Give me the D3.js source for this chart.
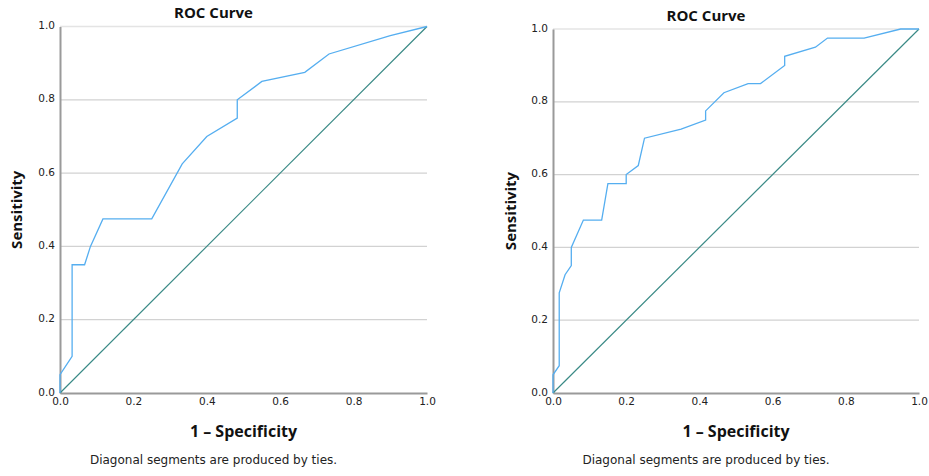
<!DOCTYPE html>
<html>
<head>
<meta charset="utf-8">
<script src="https://cdn.jsdelivr.net/npm/d3@7"></script>
<style>
  body { margin: 0; background: #fff; }
  svg { display: block; }
</style>
</head>
<body>
<svg width="929" height="476"></svg>
<script>
//Chart data
var ticks = [0, 0.2, 0.4, 0.6, 0.8, 1.0];
var diagonal = [[0, 0], [1, 1]];

//left ROC curve: [1 - specificity, sensitivity]
var leftCurve = [
	[0, 0], [0, 0.05], [0.033, 0.10], [0.033, 0.35], [0.067, 0.35], [0.083, 0.40],
	[0.117, 0.475], [0.25, 0.475], [0.333, 0.625], [0.40, 0.70], [0.483, 0.75],
	[0.483, 0.80], [0.55, 0.85], [0.667, 0.875], [0.733, 0.925], [0.90, 0.975], [1, 1]
];

//right ROC curve
var rightCurve = [
	[0, 0], [0, 0.05], [0.017, 0.075], [0.017, 0.275], [0.033, 0.325], [0.05, 0.35],
	[0.05, 0.40], [0.083, 0.475], [0.133, 0.475], [0.15, 0.575], [0.20, 0.575],
	[0.20, 0.60], [0.233, 0.625], [0.25, 0.70], [0.35, 0.725], [0.417, 0.75],
	[0.417, 0.775], [0.467, 0.825], [0.533, 0.85], [0.567, 0.85], [0.633, 0.90],
	[0.633, 0.925], [0.717, 0.95], [0.75, 0.975], [0.85, 0.975], [0.95, 1.0], [1, 1]
];

var panels = [
	{curve: leftCurve, x0: 60, x1: 427, y0: 26.5, y1: 393, titleY: 18, ylabX: 22},
	{curve: rightCurve, x0: 553, x1: 919, y0: 29, y1: 393, titleY: 21, ylabX: 516}
];

var svg = d3.select("svg");

panels.forEach(function(p) {
	var x = d3.scaleLinear().domain([0, 1]).range([p.x0, p.x1]);
	var y = d3.scaleLinear().domain([0, 1]).range([p.y1, p.y0]);
	var cx = (p.x0 + p.x1) / 2;
	var g = svg.append("g");

	//grid lines
	g.selectAll(".grid")
		.data(ticks.slice(1))
		.enter().append("line")
		.attr("x1", p.x0).attr("x2", p.x1)
		.attr("y1", function(d) { return y(d); })
		.attr("y2", function(d) { return y(d); })
		.attr("stroke", function(d) { return d == 1 ? "#e4e4e4" : "#d2d2d2"; })
		.attr("stroke-width", 1.3);

	//axes
	var xAxis = g.append("g")
		.attr("transform", "translate(0," + p.y1 + ")")
		.call(d3.axisBottom(x).tickValues(ticks).tickFormat(d3.format(".1f")).tickSize(0).tickPadding(5));
	var yAxis = g.append("g")
		.attr("transform", "translate(" + p.x0 + ",0)")
		.call(d3.axisLeft(y).tickValues(ticks).tickFormat(d3.format(".1f")).tickSize(0).tickPadding(5));
	[xAxis, yAxis].forEach(function(a) {
		a.select(".domain").attr("stroke", "#9a9a9a").attr("stroke-width", 2);
		a.selectAll("text")
			.attr("font-family", "DejaVu Sans")
			.attr("font-size", 10.5)
			.attr("fill", "#222");
	});
	yAxis.selectAll("text").attr("dy", "0.2em");

	var line = d3.line()
		.x(function(d) { return x(d[0]); })
		.y(function(d) { return y(d[1]); });

	g.append("path")
		.datum(diagonal)
		.attr("d", line)
		.attr("fill", "none")
		.attr("stroke", "#3a8a86")
		.attr("stroke-width", 1.2);

	g.append("path")
		.datum(p.curve)
		.attr("d", line)
		.attr("fill", "none")
		.attr("stroke", "#55aef0")
		.attr("stroke-width", 1.3);

	//texts
	g.append("text")
		.attr("x", cx - 30).attr("y", p.titleY)
		.attr("text-anchor", "middle")
		.attr("font-family", "Open Sans").attr("font-weight", "bold")
		.attr("font-size", 15).attr("fill", "#111")
		.text("ROC Curve");

	g.append("text")
		.attr("transform", "translate(" + p.ylabX + "," + (p.y0 + p.y1) / 2 + ") rotate(-90)")
		.attr("text-anchor", "middle")
		.attr("font-family", "Open Sans").attr("font-weight", "bold")
		.attr("font-size", 15).attr("fill", "#111")
		.text("Sensitivity");

	g.append("text")
		.attr("x", cx).attr("y", 437)
		.attr("text-anchor", "middle")
		.attr("font-family", "Open Sans").attr("font-weight", "bold")
		.attr("font-size", 16).attr("fill", "#111")
		.text("1 \u2013 Specificity");

	g.append("text")
		.attr("x", cx - 30).attr("y", 464)
		.attr("text-anchor", "middle")
		.attr("font-family", "DejaVu Sans")
		.attr("font-size", 12).attr("fill", "#222")
		.text("Diagonal segments are produced by ties.");
});
</script>
</body>
</html>
